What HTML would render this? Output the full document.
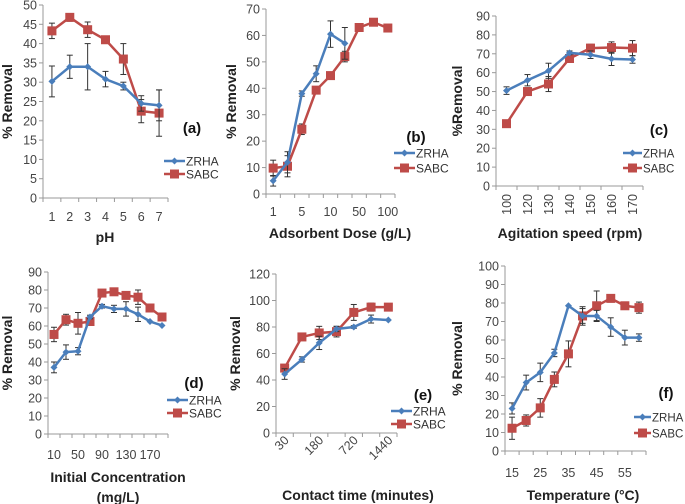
<!DOCTYPE html>
<html><head><meta charset="utf-8"><style>
body{margin:0;background:#fff}
svg{display:block;font-family:"Liberation Sans",sans-serif}
</style></head><body>
<svg id="fig" width="685" height="504" viewBox="0 0 685 504" xmlns="http://www.w3.org/2000/svg"></svg>
<script>
// Panel (a) pH
const catsA=["1","2","3","4","5","6","7"];
const zrhaA=[30.2,34,34,30.8,29,24.5,24];
const zrhaErrA=[4,3,6,2,1,2,4];
const sabcA=[43.3,46.8,43.6,41,36,22.5,22];
const sabcErrA=[2,1,2,0.5,4,3,6];
const ticksA=[0,5,10,15,20,25,30,35,40,45,50];
// Panel (b) dose
const catsB=["1","","5","","10","","50","","100"];
const zrhaB=[5,12,38,45.5,60.5,57];
const zrhaErrB=[2,4,1,3,5,6];
const sabcB=[9.8,10.5,24.5,39.3,44.8,52,63,65,62.8];
const sabcErrB=[3,4,2,1,1,2,0,0,0];
const ticksB=[0,10,20,30,40,50,60,70];
// Panel (c) agitation
const catsC=["100","120","130","140","150","160","170"];
const zrhaC=[50.5,56,61,70.5,69.5,67.3,67];
const zrhaErrC=[2,3,4,1,2,3.5,2];
const sabcC=[33,50,54,67.5,73,73.3,73];
const sabcErrC=[0,2,4,2,2,3,4];
const ticksC=[0,10,20,30,40,50,60,70,80,90];
// Panel (d) concentration
const catsD=["10","","50","","90","","130","","170",""];
const zrhaD=[37,45.5,46,65,71,69.5,69.5,66.5,62.5,60.3];
const zrhaErrD=[3,4,2,1,1,2,4,4,0,0];
const sabcD=[55.3,63.5,61.5,62.5,78.3,79,77,76,70,65];
const sabcErrD=[4,3,6,2,0,1,1,4,0,0];
const ticksD=[0,10,20,30,40,50,60,70,80,90];
// Panel (e) contact time
const catsE=["30","","180","","720","","1440"];
const zrhaE=[44.5,55.5,68,78.5,80,86,85.3];
const zrhaErrE=[4,2,5,2,1,3,0];
const sabcE=[49,72.5,75.5,76.5,91,95,95];
const sabcErrE=[2,2,5,4,6,3,0];
const ticksE=[0,20,40,60,80,100,120];
// Panel (f) temperature
const catsF=["15","","25","","35","","45","","55",""];
const zrhaF=[23,37,42.5,53,78.5,73,73,67,61.3,61.3];
const zrhaErrF=[3,4,5,2,0,4,3,5,4,2];
const sabcF=[12.3,16.5,23.3,38.7,52.5,73,78.5,82.5,78.5,77.5];
const sabcErrF=[6,3,5,4,7,5,8,2,0,3];
const ticksF=[0,10,20,30,40,50,60,70,80,90,100];

const NS="http://www.w3.org/2000/svg";
const svg=document.getElementById('fig');
const BLUE="#4a7ebb",RED="#be4b48";
function mk(tag,attrs,parent,text){const e=document.createElementNS(NS,tag);for(const k in attrs)e.setAttribute(k,attrs[k]);if(text!==undefined)e.textContent=text;(parent||svg).appendChild(e);return e;}

function panel(p){
  const g=mk('g',{});
  
  
  const n=p.cats.length, step=(p.x1-p.x0)/n;
  const xs=i=>p.x0+step*(i+0.5);
  const ys=v=>p.yb-(v-p.ymin)/(p.ymax-p.ymin)*(p.yb-p.yt);
  const ax=mk('line',{x1:p.x0,y1:p.yt,x2:p.x0,y2:p.yb,stroke:'#999','stroke-width':1},g);
  
  const bx=mk('line',{x1:p.x0,y1:p.yb,x2:p.x1,y2:p.yb,stroke:'#999','stroke-width':1},g);
  
  p.ticks.forEach(t=>{
    const y=ys(t);
    mk('line',{x1:p.x0-4,y1:y,x2:p.x0,y2:y,stroke:'#999'},g);
    const tl=mk('text',{x:p.x0-6,y:y+4.5,'text-anchor':'end','font-size':12.5,fill:'#444'},g,String(t));
    
  });
  for(let i=0;i<=n;i++){const x=p.x0+step*i;mk('line',{x1:x,y1:p.yb,x2:x,y2:p.yb+4,stroke:'#999'},g);}
  p.cats.forEach((c,i)=>{
    if(!c)return;
    const x=xs(i);let t;
    if(p.rot===90){t=mk('text',{x:0,y:0,'text-anchor':'end','font-size':12.5,fill:'#444',transform:`translate(${x+4.5},${p.yb+8}) rotate(-90)`},g,c);}
    else if(p.rot===45){t=mk('text',{x:0,y:0,'text-anchor':'end','font-size':12.5,fill:'#444',transform:`translate(${x+5},${p.yb+8}) rotate(-45)`},g,c);}
    else t=mk('text',{x:x,y:p.ly,'text-anchor':'middle','font-size':12.5,fill:'#444'},g,c);
    
  });
  const yt=mk('text',{x:0,y:0,'text-anchor':'middle','font-size':14,'font-weight':'bold',fill:'#222',transform:`translate(${p.yx},${(p.yt+p.yb)/2}) rotate(-90)`},g,p.ytitle);
  
  p.xtitle.forEach((s,k)=>{
    const xt=mk('text',{x:p.tx,y:p.ty+k*20,'text-anchor':'middle','font-size':14,'font-weight':'bold',fill:'#222'},g,s);
    
  });
  const lab=mk('text',{x:p.labx,y:p.laby,'text-anchor':'middle','font-size':15,'font-weight':'bold',fill:'#111'},g,'('+p.id+')');
  
  [[p.sabc,p.sabcErr,RED,'sabc'],[p.zrha,p.zrhaErr,BLUE,'zrha']].forEach(([vals,errs,col,nm])=>{
    vals.forEach((v,i)=>{
      const e=errs[i];if(!e)return;const x=xs(i);
      mk('line',{x1:x,y1:ys(v-e),x2:x,y2:ys(v+e),stroke:'#333','stroke-width':1},g);
      mk('line',{x1:x-3,y1:ys(v-e),x2:x+3,y2:ys(v-e),stroke:'#333'},g);
      mk('line',{x1:x-3,y1:ys(v+e),x2:x+3,y2:ys(v+e),stroke:'#333'},g);
    });
    const pl=mk('polyline',{points:vals.map((v,i)=>xs(i)+','+ys(v)).join(' '),fill:'none',stroke:col,'stroke-width':2.5},g);
    
    vals.forEach((v,i)=>{
      const x=xs(i),y=ys(v);let m;
      if(nm==='sabc')m=mk('rect',{x:x-4.5,y:y-4.5,width:9,height:9,fill:col},g);
      else m=mk('polygon',{points:`${x},${y-3.5} ${x+3.5},${y} ${x},${y+3.5} ${x-3.5},${y}`,fill:col},g);
      
    });
  });
  const L=p.lgl||21;
  [['ZRHA',BLUE,p.lg1],['SABC',RED,p.lg2]].forEach(([s,col,y])=>{
    const lg=mk('g',{},g);
    
    mk('line',{x1:p.lgx,y1:y,x2:p.lgx+L,y2:y,stroke:col,'stroke-width':2.5},lg);
    const cx=p.lgx+L/2;
    if(s==='SABC')mk('rect',{x:cx-4.5,y:y-4.5,width:9,height:9,fill:col},lg);
    else mk('polygon',{points:`${cx},${y-3.5} ${cx+3.5},${y} ${cx},${y+3.5} ${cx-3.5},${y}`,fill:col},lg);
    mk('text',{x:p.lgx+L+1,y:y+4.5,'font-size':p.lgf||12,fill:'#333'},lg,s);
  });
}

panel({id:'a',cats:catsA,zrha:zrhaA,zrhaErr:zrhaErrA,sabc:sabcA,sabcErr:sabcErrA,ticks:ticksA,ymin:0,ymax:50,
  x0:43,x1:168,yt:5,yb:198,ly:221,yx:12,ytitle:'% Removal',xtitle:['pH'],tx:105,ty:242,labx:192,laby:133,lgx:164,lg1:161,lg2:174});
panel({id:'b',cats:catsB,zrha:zrhaB,zrhaErr:zrhaErrB,sabc:sabcB,sabcErr:sabcErrB,ticks:ticksB,ymin:0,ymax:70,
  x0:266,x1:395,yt:9,yb:194,ly:216,yx:236,ytitle:'% Removal',xtitle:['Adsorbent Dose (g/L)'],tx:340,ty:238,labx:416,laby:142,lgx:394,lg1:153,lg2:168});
panel({id:'c',cats:catsC,zrha:zrhaC,zrhaErr:zrhaErrC,sabc:sabcC,sabcErr:sabcErrC,ticks:ticksC,ymin:0,ymax:90,rot:90,
  x0:496,x1:643,yt:16,yb:186,ly:210,yx:462,ytitle:'%Removal',xtitle:['Agitation speed (rpm)'],tx:570,ty:238,labx:659,laby:135,lgx:623,lg1:153,lg2:168,lgl:19,lgf:11.5});
panel({id:'d',cats:catsD,zrha:zrhaD,zrhaErr:zrhaErrD,sabc:sabcD,sabcErr:sabcErrD,ticks:ticksD,ymin:0,ymax:90,
  x0:48,x1:168,yt:272,yb:434,ly:459,yx:12,ytitle:'% Removal',xtitle:['Initial Concentration','(mg/L)'],tx:118,ty:482,labx:194,laby:388,lgx:167,lg1:400,lg2:413});
panel({id:'e',cats:catsE,zrha:zrhaE,zrhaErr:zrhaErrE,sabc:sabcE,sabcErr:sabcErrE,ticks:ticksE,ymin:0,ymax:120,rot:45,
  x0:276,x1:397,yt:274,yb:433,ly:455,yx:240,ytitle:'% Removal',xtitle:['Contact time (minutes)'],tx:358,ty:500,labx:423,laby:400,lgx:391,lg1:411,lg2:424});
panel({id:'f',cats:catsF,zrha:zrhaF,zrhaErr:zrhaErrF,sabc:sabcF,sabcErr:sabcErrF,ticks:ticksF,ymin:0,ymax:100,
  x0:505,x1:646,yt:266,yb:451,ly:477,yx:462,ytitle:'% Removal',xtitle:['Temperature (°C)'],tx:583,ty:500,labx:666,laby:398,lgx:634,lg1:417,lg2:433,lgl:17,lgf:11.5});
</script>
</body></html>
